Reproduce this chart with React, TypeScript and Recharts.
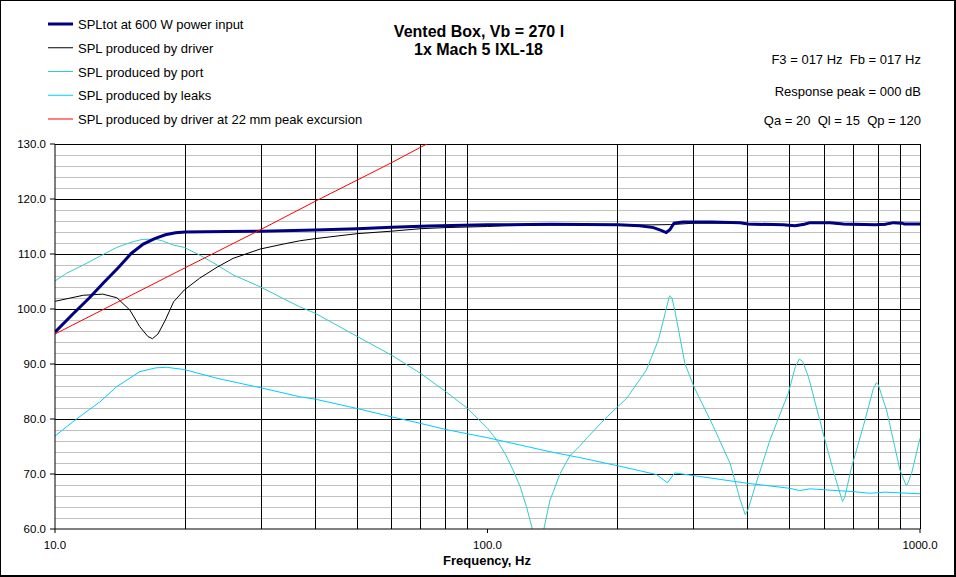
import React from 'react';
import { LineChart, Line, XAxis, YAxis, ReferenceLine } from 'recharts';

const FONT = '"Liberation Sans", Arial, sans-serif';

// [frequency Hz, SPL dB]
const splTot: [number, number][] = [
  [10, 95.8], [11, 99.1], [12, 102.0], [13, 104.9], [14, 107.5], [15, 110.1], [16, 111.8],
  [17, 112.8], [18, 113.5], [19, 113.85], [20, 114.0], [25, 114.1], [30, 114.15], [40, 114.35],
  [50, 114.6], [60, 114.85], [73, 115.1], [100, 115.3], [140, 115.4], [200, 115.3], [225, 115.15],
  [242, 114.8], [252, 114.3], [259, 113.9], [264, 114.4], [270, 115.6], [283, 115.8], [330, 115.8],
  [384, 115.7], [400, 115.45], [483, 115.3], [514, 115.15], [540, 115.4], [557, 115.7], [620, 115.7],
  [665, 115.45], [788, 115.3], [830, 115.4], [868, 115.7], [910, 115.6], [920, 115.45], [1000, 115.45],
];

const splDriver: [number, number][] = [
  [10, 101.4], [11.63, 102.5], [12.9, 102.7], [13.9, 102.05], [14.9, 99.8], [15.7, 96.8], [16.4, 95.0],
  [16.8, 94.6], [17.3, 95.45], [18, 98.0], [18.8, 101.3], [19.9, 103.45], [21.6, 105.6], [23.7, 107.6],
  [25.8, 109.2], [29.8, 110.9], [33.7, 111.8], [36.8, 112.4], [40, 112.8], [50, 113.7], [60, 114.15],
  [70, 114.6], [80, 114.8], [100, 115.0], [110, 115.15], [140, 115.25], [200, 115.25], [240, 115.3],
  [265, 115.35], [280, 115.45], [300, 115.6], [384, 115.6], [400, 115.35], [483, 115.2], [514, 115.05],
  [540, 115.3], [557, 115.6], [620, 115.6], [665, 115.35], [788, 115.2], [830, 115.3], [868, 115.6],
  [910, 115.5], [1000, 115.35],
];

const splPort: [number, number][] = [
  [10, 105.1], [10.64, 106.5], [11.63, 108.0], [12.7, 109.6], [13.9, 111.2], [15.1, 112.2], [15.9, 112.65],
  [17.1, 112.7], [17.7, 112.4], [18.8, 111.6], [19.9, 111.2], [21.6, 109.8], [23.7, 108.0], [25.8, 106.2],
  [29.8, 104.05], [33.7, 101.9], [36.8, 100.4], [40, 99.2], [50, 95.0], [60, 91.6], [70, 88.3], [80, 85.0],
  [90, 81.9], [100, 78.3], [105, 76.2], [110, 73.6], [114.6, 70.7], [119, 67.7], [123, 64.1], [127, 60.0],
  [131, 52], [135, 60.0], [139.5, 65.3], [142, 66.8], [147, 70.0], [155, 73.3], [163, 75.0], [170, 76.6],
  [189, 80.4], [210, 83.8], [233, 88.9], [248.5, 94.4], [258, 99.5], [263.5, 102.4], [267, 102.0],
  [271, 99.8], [286, 90.1], [300, 85.9], [333, 78.6], [364, 71.9], [384, 65.3], [394.5, 62.6], [400, 63.5],
  [415.5, 67.7], [450, 76.2], [496, 84.7], [515, 89.5], [526, 90.9], [535, 90.5], [552, 87.7], [600, 76.8],
  [636, 69.5], [662, 65.0], [670, 65.8], [695, 71.3], [739, 78.6], [780, 85.5], [793, 86.6], [800, 86.3],
  [837, 81.6], [899, 70.7], [928, 68.0], [935, 68.1], [956, 70.1], [1000, 76.5],
];

const splLeaks: [number, number][] = [
  [10, 76.9], [11, 79.5], [12, 81.7], [12.7, 83.1], [13.9, 85.9], [15.7, 88.6], [17.1, 89.3], [18.1, 89.4],
  [19.9, 89.0], [23.7, 87.4], [29.8, 85.7], [36.8, 84.05], [40, 83.6], [50, 81.9], [60, 80.4], [70, 79.2],
  [80, 78.1], [90, 77.3], [100, 76.6], [139.5, 74.05], [163, 73.0], [200, 71.5], [246, 69.9], [260.6, 68.4],
  [271, 70.2], [300, 69.7], [400, 68.3], [500, 67.4], [526, 67.0], [557, 67.3], [700, 66.8], [765, 66.5],
  [830, 66.7], [1000, 66.4],
];

const splExcursion: [number, number][] = [
  [10, 95.45], [15, 102.5], [20, 107.5], [30, 114.5], [40, 119.6], [50, 123.45], [60, 126.6], [70, 129.4], [75, 130.6],
];

const xTicks = [10, 100, 1000];
const xGrid = [20, 30, 40, 50, 60, 70, 80, 90, 200, 300, 400, 500, 600, 700, 800, 900, 1000];
const yTicks = [60, 70, 80, 90, 100, 110, 120, 130];
const yMajorGrid = [70, 80, 90, 100, 110, 120, 130];
const yMinorGrid = [62, 64, 66, 68, 72, 74, 76, 78, 82, 84, 86, 88, 92, 94, 96, 98, 102, 104, 106, 108, 112, 114, 116, 118, 122, 124, 126, 128];

const legendItems = [
  { label: 'SPLtot at 600 W power input', color: '#000080', width: 3 },
  { label: 'SPL produced by driver', color: '#000000', width: 1 },
  { label: 'SPL produced by port', color: '#33CCCC', width: 1 },
  { label: 'SPL produced by leaks', color: '#00CCFF', width: 1 },
  { label: 'SPL produced by driver at 22 mm peak excursion', color: '#FF0000', width: 1 },
];

const infoLines = ['F3 = 017 Hz  Fb = 017 Hz', 'Response peak = 000 dB', 'Qa = 20  Ql = 15  Qp = 120'];
const infoBaselines = [64, 95.5, 125];

const toRows = (arr: [number, number][]) => arr.map(([f, y]) => ({ f, y }));

export default function App() {
  const W = 956;
  const H = 577;
  return (
    <div style={{ position: 'absolute', left: 0, top: 0, width: W, height: H, background: '#fff' }}>
      <LineChart width={W} height={H} margin={{ top: 144, right: 36, bottom: 18, left: 5 }}>
        <XAxis
          type="number"
          dataKey="f"
          scale="log"
          domain={[10, 1000]}
          ticks={xTicks}
          allowDataOverflow
          tickFormatter={(v: number) => v.toFixed(1)}
          tick={{ fill: '#000', fontSize: 11.5, fontFamily: FONT }}
          tickLine={{ stroke: '#000' }}
          axisLine={{ stroke: '#000' }}
          tickSize={4}
          tickMargin={8}
          height={30}
        />
        <YAxis
          type="number"
          domain={[60, 130]}
          ticks={yTicks}
          allowDataOverflow
          tickFormatter={(v: number) => v.toFixed(1)}
          tick={{ fill: '#000', fontSize: 11.5, fontFamily: FONT }}
          tickLine={{ stroke: '#000' }}
          axisLine={{ stroke: '#000' }}
          tickSize={5}
          tickMargin={4}
          width={50}
        />
        {yMinorGrid.map((v) => (
          <ReferenceLine key={'ym' + v} y={v} stroke="#C0C0C0" strokeWidth={1} shapeRendering="crispEdges" />
        ))}
        {yMajorGrid.map((v) => (
          <ReferenceLine key={'yM' + v} y={v} stroke="#000" strokeWidth={1} shapeRendering="crispEdges" />
        ))}
        {xGrid.map((v) => (
          <ReferenceLine key={'x' + v} x={v} stroke="#000" strokeWidth={1} shapeRendering="crispEdges" />
        ))}
        <Line data={toRows(splLeaks)} dataKey="y" type="linear" stroke="#00CCFF" strokeWidth={1} dot={false} isAnimationActive={false} />
        <Line data={toRows(splPort)} dataKey="y" type="linear" stroke="#33CCCC" strokeWidth={1} dot={false} isAnimationActive={false} />
        <Line data={toRows(splDriver)} dataKey="y" type="linear" stroke="#000000" strokeWidth={1} dot={false} isAnimationActive={false} />
        <Line data={toRows(splTot)} dataKey="y" type="linear" stroke="#000080" strokeWidth={3} dot={false} isAnimationActive={false} />
        <Line data={toRows(splExcursion)} dataKey="y" type="linear" stroke="#FF0000" strokeWidth={1} dot={false} isAnimationActive={false} />
      </LineChart>
      <svg width={W} height={H} style={{ position: 'absolute', left: 0, top: 0, pointerEvents: 'none' }}>
        <rect x={0} y={0} width={W} height={1} fill="#000" />
        <rect x={0} y={0} width={1} height={H} fill="#000" />
        <rect x={W - 2} y={0} width={2} height={H} fill="#000" />
        <rect x={0} y={H - 2} width={W} height={2} fill="#000" />
        {legendItems.map((it, i) => {
          const cy = 24 + i * 23.75;
          return (
            <g key={it.label}>
              <line x1={48} x2={73} y1={cy} y2={cy} stroke={it.color} strokeWidth={it.width} />
              <text x={78} y={cy + 5} fontSize={13} fontFamily={FONT} fill="#000">{it.label}</text>
            </g>
          );
        })}
        <text x={479} y={36.5} textAnchor="middle" fontSize={16} fontWeight="bold" fontFamily={FONT} fill="#000">Vented Box, Vb = 270 l</text>
        <text x={478.5} y={55} textAnchor="middle" fontSize={16} fontWeight="bold" fontFamily={FONT} fill="#000">1x Mach 5 IXL-18</text>
        {infoLines.map((t, i) => (
          <text key={t} x={921} y={infoBaselines[i]} textAnchor="end" fontSize={13} fontFamily={FONT} fill="#000" style={{ whiteSpace: 'pre' }}>{t}</text>
        ))}
        <text x={487} y={565} textAnchor="middle" fontSize={13} fontWeight="bold" fontFamily={FONT} fill="#000">Frequency, Hz</text>
      </svg>
    </div>
  );
}
